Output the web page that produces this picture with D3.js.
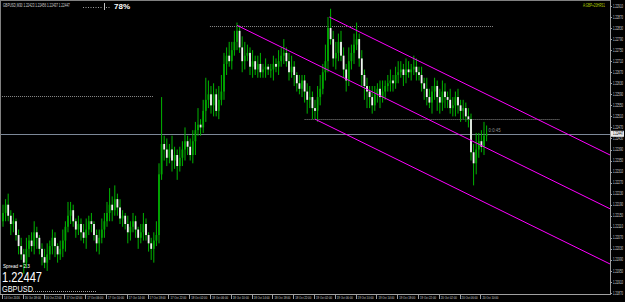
<!DOCTYPE html>
<html>
<head>
<meta charset="UTF-8">
<title>GBPUSD M30</title>
<script src="https://cdn.jsdelivr.net/npm/d3@7"></script>
<style>
  html, body { margin: 0; padding: 0; background: #000; }
  svg { display: block; font-family: "Liberation Sans", "DejaVu Sans", sans-serif; }
</style>
</head>
<body>
<svg id="chart" width="625" height="302"></svg>
<script>
// bar closes, GBPUSD M30 (open = previous close)
const firstOpen = 1.2213;
const closes = [
  1.2216,1.2219,1.2215,1.2212,1.2213,1.2208,1.2204,1.2201,1.2198,1.2203,
  1.2206,1.2204,1.2209,1.2207,1.2203,1.2200,1.2198,1.2201,1.2204,1.2207,
  1.2204,1.2201,1.2203,1.2206,1.2211,1.2215,1.2217,1.2213,1.2210,1.2212,
  1.2209,1.2207,1.2210,1.2213,1.2212,1.2208,1.2205,1.2207,1.2210,1.2213,
  1.2216,1.2219,1.2217,1.2221,1.2218,1.2214,1.2215,1.2212,1.2209,1.2211,
  1.2213,1.2210,1.2207,1.2209,1.2212,1.2208,1.2205,1.2203,1.2206,1.2208,
  1.2230,1.2241,1.2239,1.2236,1.2239,1.2235,1.2237,1.2233,1.2236,1.2239,
  1.2242,1.2240,1.2237,1.2242,1.2246,1.2248,1.2247,1.2253,1.2257,1.2259,
  1.2255,1.2259,1.2253,1.2257,1.2260,1.2270,1.2273,1.2271,1.2275,1.2278,
  1.2282,1.2276,1.2271,1.2273,1.2274,1.2269,1.2271,1.2268,1.2270,1.2267,
  1.2268,1.2269,1.2268,1.2268,1.2270,1.2269,1.2271,1.2273,1.2274,1.2271,
  1.2267,1.2269,1.2266,1.2263,1.2261,1.2264,1.2260,1.2257,1.2258,1.2254,
  1.2253,1.2258,1.2261,1.2267,1.2271,1.2283,1.2279,1.2272,1.2274,1.2278,
  1.2273,1.2268,1.2264,1.2271,1.2274,1.2277,1.2279,1.2272,1.2266,1.2262,
  1.2260,1.2258,1.2255,1.2259,1.2261,1.2258,1.2260,1.2262,1.2263,1.2264,
  1.2263,1.2266,1.2267,1.2268,1.2266,1.2268,1.2267,1.2268,1.2269,1.2267,
  1.2266,1.2263,1.2261,1.2258,1.2256,1.2260,1.2262,1.2258,1.2256,1.2260,
  1.2258,1.2257,1.2254,1.2255,1.2258,1.2255,1.2253,1.2254,1.2251,1.2250,
  1.2238,1.2234,1.2239,1.2242,1.2240,1.2244,1.22447
];
// wick lengths in pips above / below the body
const wickUp = [
  3,2,4,2,3,1,2,3,2,4, 2,3,4,2,1,2,3,4,2,3, 2,1,3,4,2,5,3,2,1,3,
  2,3,4,2,3,1,2,3,4,3, 4,6,3,5,2,3,2,1,3,2, 3,2,1,3,4,2,1,2,3,5,
  4,17,3,4,2,5,3,2,4,3, 5,2,3,4,3,6,2,4,8,5, 3,4,2,5,6,4,3,5,3,4,
  3,2,4,5,3,2,4,2,3,4, 2,3,1,2,3,2,4,3,5,2, 3,4,2,1,3,2,2,3,4,2,
  3,4,5,3,6,4,7,3,4,3, 4,3,2,5,3,4,6,2,3,2, 3,2,4,3,2,3,4,2,3,4,
  2,3,4,3,2,4,3,2,4,3, 2,3,2,4,3,2,3,2,3,4, 3,2,4,3,2,3,2,3,2,3,
  2,3,6,3,4,5,3
];
const wickDn = [
  2,3,2,4,3,2,3,2,4,2, 3,2,3,4,2,3,2,3,2,3, 4,3,2,3,4,2,3,2,3,2,
  3,2,4,2,3,2,3,4,2,3, 2,3,4,2,3,2,3,2,4,3, 2,3,4,2,3,2,3,4,5,2,
  3,2,4,3,2,4,3,5,2,3, 4,3,2,3,5,2,3,2,4,3, 3,4,2,3,2,3,4,2,3,2,
  3,2,4,3,2,3,4,2,3,2, 2,3,2,3,4,2,3,2,3,2, 3,2,4,3,2,3,4,5,3,4,
  3,4,3,2,3,4,2,3,4,3, 2,3,4,2,3,4,2,3,4,5, 6,4,3,2,3,4,2,3,2,3,
  3,2,3,2,4,3,2,3,2,3, 2,3,4,3,2,4,3,5,4,3, 4,3,2,3,4,3,4,3,2,3,
  3,8,4,3,2,3,2
];

const priceTicks = [
  1.22910,1.22870,1.22830,1.22790,1.22750,1.22710,1.22670,1.22630,1.22590,
  1.22550,1.22510,1.22470,1.22430,1.22390,1.22350,1.22310,1.22270,1.22230,
  1.22190,1.22150,1.22110,1.22070,1.22030,1.21990,1.21950,1.21910,1.21870
];
const timeLabels = [
  "14 Oct 2016","16 Oct 18:00","16 Oct 22:00","17 Oct 02:00","17 Oct 06:00",
  "17 Oct 10:00","17 Oct 14:00","17 Oct 18:00","17 Oct 22:00","18 Oct 02:00",
  "18 Oct 06:00","18 Oct 10:00","18 Oct 14:00","18 Oct 18:00","18 Oct 22:00",
  "19 Oct 02:00","19 Oct 06:00","19 Oct 10:00","19 Oct 14:00","19 Oct 18:00",
  "19 Oct 22:00","20 Oct 02:00","20 Oct 06:00","20 Oct 10:00"
];
const barsPerLabel = 8;

// trend channel rays: [bar from, bar to], [price from, price to]
const channelBars = [[125.5, 233.5], [90, 233.5], [120, 233.5]];
const channelPrices = [[1.2287, 1.2237], [1.2284, 1.22175], [1.2250, 1.21975]];

// dotted horizontal levels
const levelPrices = [1.22838, 1.22584, 1.22501];
const levelBars = [[79.6, 188.5], [-0.4, 57.7], [116, 214]];

const bid = 1.22447;
const symbol = "GBPUSD";
const spread = "2.3";

const W = 625, H = 302;
const plotRight = 610, plotBottom = 294;

const svg = d3.select('#chart');
svg.append('rect').attr('width', W).attr('height', H).attr('fill', '#000');

const x = d3.scaleLinear().domain([0, 234]).range([3, 3 + 234 * 2.6]);
const y = d3.scaleLinear().domain([1.21870, 1.22910]).range([293, 6]);

// tiny terminal-style text squeezed to a given width
function label(parent, tx, ty, str, size, width, color, weight) {
  const t = parent.append('text')
    .attr('x', 0).attr('y', 0)
    .attr('fill', color).attr('font-size', size)
    .attr('font-weight', weight || 'normal')
    .text(str);
  const w = t.node().getComputedTextLength();
  t.attr('transform', `translate(${tx},${ty}) scale(${width / w},1)`);
  return t;
}

svg.append('clipPath').attr('id', 'plot')
  .append('rect').attr('x', 1).attr('y', 1).attr('width', plotRight - 1).attr('height', plotBottom - 1);

const plot = svg.append('g').attr('clip-path', 'url(#plot)');

const bars = closes.map((c, i) => {
  const o = i === 0 ? firstOpen : closes[i - 1];
  return {
    i: i, o: o, c: c,
    h: Math.max(o, c) + wickUp[i] * 0.0001,
    l: Math.min(o, c) - wickDn[i] * 0.0001
  };
});

// levels
plot.selectAll('line.level').data(levelPrices).enter().append('line')
  .attr('x1', (d, i) => x(levelBars[i][0]))
  .attr('x2', (d, i) => x(levelBars[i][1]))
  .attr('y1', d => Math.round(y(d)) + 0.5)
  .attr('y2', d => Math.round(y(d)) + 0.5)
  .attr('stroke', '#8a8a8a').attr('stroke-width', 1).attr('stroke-dasharray', '1,1');

// bid line
plot.append('line')
  .attr('x1', 1).attr('x2', plotRight)
  .attr('y1', Math.round(y(bid)) + 0.5).attr('y2', Math.round(y(bid)) + 0.5)
  .attr('stroke', '#7c8898').attr('stroke-width', 1);

// wicks
plot.selectAll('line.wick').data(bars).enter().append('line')
  .attr('x1', d => x(d.i)).attr('x2', d => x(d.i))
  .attr('y1', d => y(d.h)).attr('y2', d => y(d.l))
  .attr('stroke', '#00b400').attr('stroke-width', 1);

// bodies
plot.selectAll('rect.body').data(bars).enter().append('rect')
  .attr('x', d => x(d.i) - 0.9)
  .attr('width', 1.8)
  .attr('y', d => y(Math.max(d.o, d.c)))
  .attr('height', d => Math.max(1, Math.abs(y(d.o) - y(d.c))))
  .attr('fill', d => d.c >= d.o ? '#00a800' : '#f2f2f2');

// channel
plot.selectAll('line.chan').data(channelPrices).enter().append('line')
  .attr('x1', (d, i) => x(channelBars[i][0]))
  .attr('x2', (d, i) => x(channelBars[i][1]))
  .attr('y1', d => y(d[0]))
  .attr('y2', d => y(d[1]))
  .attr('stroke', '#ff00ff').attr('stroke-width', 1);

// countdown label next to last bar
label(svg, x(186) + 2, y(bid) - 2, '0:0:45', 4.5, 12, '#909090');

// frame
svg.append('line').attr('x1', 0).attr('x2', plotRight).attr('y1', 0.5).attr('y2', 0.5).attr('stroke', '#808080');
svg.append('line').attr('x1', 0.5).attr('x2', 0.5).attr('y1', 0).attr('y2', plotBottom).attr('stroke', '#808080');
svg.append('line').attr('x1', plotRight + 0.5).attr('x2', plotRight + 0.5).attr('y1', 0).attr('y2', plotBottom).attr('stroke', '#a0a0a0');
svg.append('line').attr('x1', 0).attr('x2', plotRight + 1).attr('y1', plotBottom + 0.5).attr('y2', plotBottom + 0.5).attr('stroke', '#a0a0a0');

// price axis
const py = svg.append('g');
py.selectAll('line').data(priceTicks).enter().append('line')
  .attr('x1', plotRight).attr('x2', plotRight + 2)
  .attr('y1', d => Math.round(y(d)) + 0.5).attr('y2', d => Math.round(y(d)) + 0.5)
  .attr('stroke', '#a0a0a0');
priceTicks.forEach(p => label(py, plotRight + 3, y(p) + 1.6, p.toFixed(5), 4.5, 10, '#d0d0d0'));

// bid label box
svg.append('rect').attr('x', plotRight + 1).attr('y', y(bid) - 3).attr('width', 13).attr('height', 6).attr('fill', '#e8e8e8');
label(svg, plotRight + 3, y(bid) + 1.6, bid.toFixed(5), 4.5, 10, '#000');

// time axis
const tx = svg.append('g');
tx.selectAll('line').data(timeLabels).enter().append('line')
  .attr('x1', (d, i) => Math.round(x(i * barsPerLabel) - 1) + 0.5)
  .attr('x2', (d, i) => Math.round(x(i * barsPerLabel) - 1) + 0.5)
  .attr('y1', plotBottom).attr('y2', plotBottom + 5)
  .attr('stroke', '#a0a0a0');
timeLabels.forEach((s, i) => label(tx, x(i * barsPerLabel) + 1, plotBottom + 5, s, 4.2, 16, '#d0d0d0'));

// header
label(svg, 3, 7, 'GBPUSD,M30  1.22423 1.22456 1.22437 1.22447', 4.5, 67, '#d0d0d0');
svg.append('line').attr('x1', 83).attr('x2', 103).attr('y1', 7.5).attr('y2', 7.5)
  .attr('stroke', '#a0a0a0').attr('stroke-dasharray', '1,1.5');
svg.append('line').attr('x1', 104.5).attr('x2', 104.5).attr('y1', 3).attr('y2', 10).attr('stroke', '#c0c0c0');
svg.append('line').attr('x1', 106).attr('x2', 110).attr('y1', 7.5).attr('y2', 7.5)
  .attr('stroke', '#a0a0a0').attr('stroke-dasharray', '1,1.5');
svg.append('text').attr('x', 114).attr('y', 9).attr('fill', '#ffffff').attr('font-size', 8).attr('font-weight', 'bold')
  .text('78%');
label(svg, 583, 7, 'A:GBP+20HRS1', 4.5, 22, '#b8d000');

// bottom-left info
label(svg, 3, 268, 'Spread = ' + spread, 6, 27, '#ffffff');
label(svg, 2, 281.5, bid.toFixed(5), 14, 40, '#ffffff');
label(svg, 2, 292, symbol, 9, 31, '#ffffff');
svg.append('line').attr('x1', 33).attr('x2', 97).attr('y1', 291.5).attr('y2', 291.5)
  .attr('stroke', '#a0a0a0').attr('stroke-dasharray', '1,1');
</script>
</body>
</html>
